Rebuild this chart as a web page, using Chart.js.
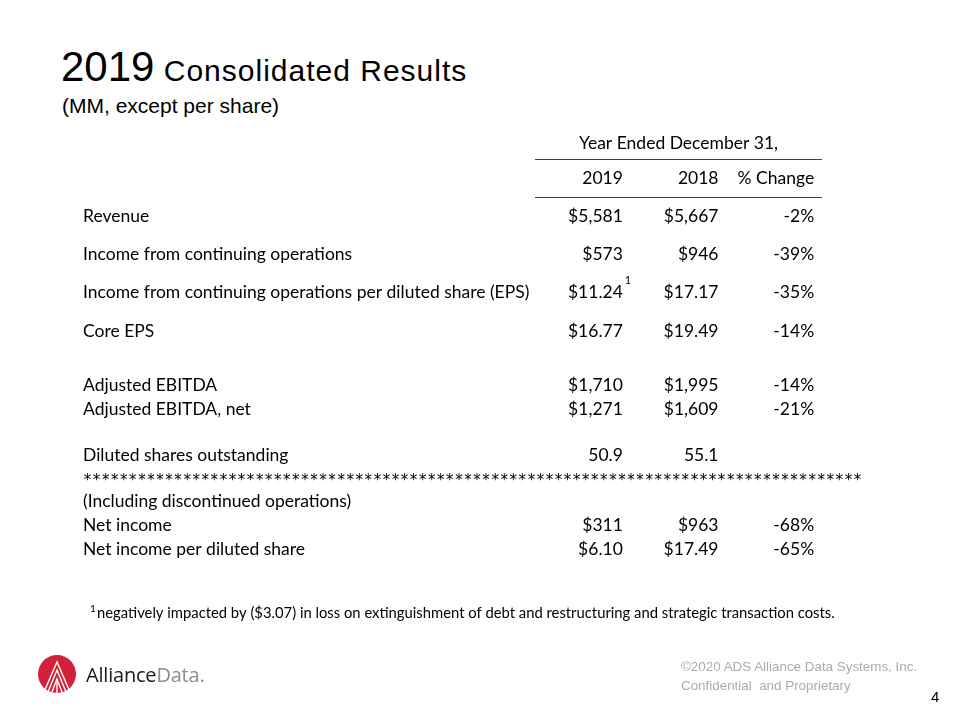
<!DOCTYPE html>
<html>
<head>
<meta charset="utf-8">
<script src="https://cdn.jsdelivr.net/npm/chart.js@4.4.1/dist/chart.umd.min.js"></script>
<style>
  html, body { margin: 0; padding: 0; background: #fff; }
  #slide { position: relative; width: 960px; height: 720px; overflow: hidden; font-family: "Liberation Sans", Arial, sans-serif; }
  #table { position: absolute; left: 0; top: 0; }
  .title { position: absolute; left: 61px; top: 46px; font-size: 30px; letter-spacing: 1px; color: #000; white-space: nowrap; line-height: 1; }
  .title .year { font-size: 42px; letter-spacing: 0; }
  .subtitle { position: absolute; left: 62px; top: 94px; font-size: 21px; color: #000; white-space: nowrap; }
  .copy { position: absolute; left: 681px; top: 657px; font-size: 13.4px; line-height: 19px; color: #ababab; white-space: nowrap; }
  .page { position: absolute; left: 931px; top: 688px; font-size: 15px; color: #000; }
  .logo { position: absolute; left: 37px; top: 654px; }
  .brand { position: absolute; left: 86px; top: 661px; font-family: "Open Sans", sans-serif; font-size: 20px; letter-spacing: -0.2px; white-space: nowrap; }
  .brand .a { color: #1a1a1a; }
  .brand .d { color: #8c8c8c; }
</style>
</head>
<body>
<div id="slide">
  <div class="title"><span class="year">2019</span> Consolidated Results</div>
  <div class="subtitle">(MM, except per share)</div>
  <canvas id="table" width="960" height="720"></canvas>
  <svg class="logo" width="40" height="40" viewBox="0 0 40 40">
    <circle cx="20" cy="20" r="19" fill="#d2213a"/>
    <g fill="none" stroke="#fff" stroke-width="1.4">
      <polyline points="7,38 20,8 33,38"/>
      <polyline points="11,38 20,16 29,38"/>
      <polyline points="15,38 20,25 25,38"/>
      <line x1="20" y1="25" x2="20" y2="39"/>
    </g>
  </svg>
  <div class="brand"><span class="a">Alliance</span><span class="d">Data.</span></div>
  <div class="copy">©2020 ADS Alliance Data Systems, Inc.<br>Confidential&nbsp; and Proprietary</div>
  <div class="page">4</div>
</div>
<script>
// table data
const columns = ['2019', '2018', '% Change'];
const rowLabels = [
  'Revenue',
  'Income from continuing operations',
  'Income from continuing operations per diluted share (EPS)',
  'Core EPS',
  'Adjusted EBITDA',
  'Adjusted EBITDA, net',
  'Diluted shares outstanding',
  '(Including discontinued operations)',
  'Net income',
  'Net income per diluted share'
];
const values2019 = [5581, 573, 11.24, 16.77, 1710, 1271, 50.9, null, 311, 6.10];
const values2018 = [5667, 946, 17.17, 19.49, 1995, 1609, 55.1, null, 963, 17.49];
const pctChange = [-2, -39, -35, -14, -14, -21, null, null, -68, -65];
const rowFormats = ['usd0', 'usd0', 'usd2', 'usd2', 'usd0', 'usd0', 'num1', 'none', 'usd0', 'usd2'];
const headerText = 'Year Ended December 31,';
const footnoteText = 'negatively impacted by ($3.07) in loss on extinguishment of debt and restructuring and strategic transaction costs.';

// layout, in text lines below the "Year Ended" header
const rowLine = [3.04, 4.63, 6.21, 7.83, 10.08, 11.08, 13.0, 14.92, 15.92, 16.92];
const headerLine = 0;
const columnHeaderLine = 1.46;
const starLine = 14.1;
const footnoteLine = 19.58;
const starCount = 86;
const labelX = 83;
const bodyFont = '17.5px Lato, "Open Sans", sans-serif';

function formatValue(v, fmt) {
  if (v === null || v === undefined) return '';
  if (fmt === 'usd0') return '$' + v.toLocaleString('en-US');
  if (fmt === 'usd2') return '$' + v.toFixed(2);
  if (fmt === 'num1') return v.toFixed(1);
  return String(v);
}

function columnData(values, col) {
  return values.map((v, i) => ({ x: col, y: rowLine[i], v: v, fmt: rowFormats[i] }))
    .filter(p => p.v !== null);
}

const tableText = {
  id: 'tableText',
  afterDatasetsDraw(chart) {
    const ctx = chart.ctx;
    const xs = chart.scales.x;
    const ys = chart.scales.y;
    ctx.save();
    ctx.fillStyle = '#000';
    ctx.font = bodyFont;
    ctx.textBaseline = 'middle';

    // group header and rules
    const left = xs.left - 40;
    const right = xs.right - 40;
    ctx.textAlign = 'center';
    ctx.fillText(headerText, (left + right) / 2, ys.getPixelForValue(headerLine));
    ctx.strokeStyle = '#404040';
    ctx.lineWidth = 1;
    [0.65, 2.27].forEach(l => {
      const y = Math.round(ys.getPixelForValue(l)) + 0.5;
      ctx.beginPath();
      ctx.moveTo(left, y);
      ctx.lineTo(right, y);
      ctx.stroke();
    });

    // column headers
    ctx.textAlign = 'right';
    columns.forEach((c, i) => {
      ctx.fillText(c, xs.getPixelForValue(i), ys.getPixelForValue(columnHeaderLine));
    });

    // row labels
    ctx.textAlign = 'left';
    rowLabels.forEach((label, i) => {
      ctx.fillText(label, labelX, ys.getPixelForValue(rowLine[i]));
    });

    // cell values from dataset elements
    ctx.textAlign = 'right';
    chart.data.datasets.forEach((ds, di) => {
      const meta = chart.getDatasetMeta(di);
      meta.data.forEach((el, j) => {
        const p = ds.data[j];
        const txt = ds.isPct ? p.v + '%' : formatValue(p.v, p.fmt);
        ctx.fillText(txt, el.x, el.y);
      });
    });

    // superscript on EPS 2019
    const epsEl = chart.getDatasetMeta(0).data[2];
    ctx.textAlign = 'left';
    ctx.font = '11px Lato, "Open Sans", sans-serif';
    ctx.fillText('1', epsEl.x + 2, epsEl.y - 12);

    // star separator, evenly across the table width
    ctx.font = '15px "DejaVu Sans", sans-serif';
    ctx.textAlign = 'center';
    const starStep = (xs.right - labelX) / starCount;
    const sy = ys.getPixelForValue(starLine);
    for (let i = 0; i < starCount; i++) {
      ctx.fillText('*', labelX + starStep * (i + 0.5), sy);
    }

    // footnote
    ctx.textAlign = 'left';
    const fy = ys.getPixelForValue(footnoteLine);
    ctx.font = '10px Lato, "Open Sans", sans-serif';
    ctx.fillText('1', 90, fy - 4);
    ctx.font = '14.8px Lato, "Open Sans", sans-serif';
    ctx.fillText(footnoteText, 97, fy);
    ctx.restore();
  }
};

new Chart(document.getElementById('table'), {
  type: 'scatter',
  data: {
    datasets: [
      { label: '2019', data: columnData(values2019, '2019') },
      { label: '2018', data: columnData(values2018, '2018') },
      { label: '% Change', data: columnData(pctChange, '% Change'), isPct: true }
    ]
  },
  options: {
    responsive: false,
    animation: false,
    events: [],
    layout: { padding: { left: 575, right: 98, top: 143, bottom: 97 } },
    elements: { point: { radius: 0 } },
    plugins: { legend: { display: false }, tooltip: { enabled: false } },
    scales: {
      x: { type: 'category', labels: columns, offset: true, display: false },
      y: { type: 'linear', min: 0, max: 20, reverse: true, display: false }
    }
  },
  plugins: [tableText]
});
</script>
</body>
</html>
